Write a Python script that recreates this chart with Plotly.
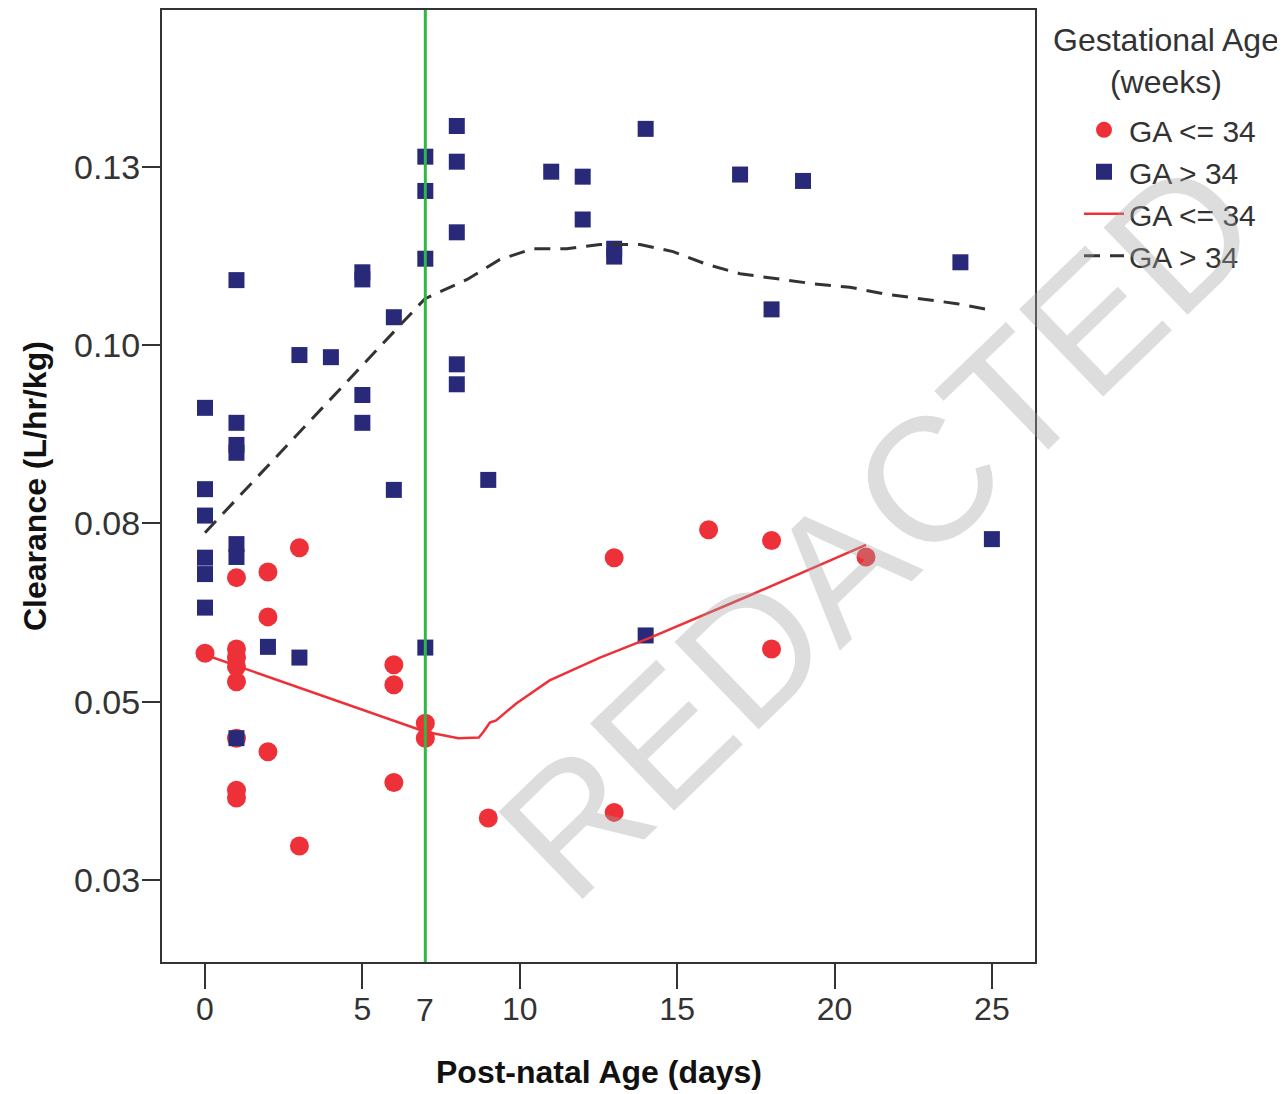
import plotly.graph_objects as go

# ---------------- data ----------------
# GA <= 34 weeks (red circles)
ga_le34_age = [0, 1, 1, 1, 1, 1, 1, 1, 1, 2, 2, 2, 3, 3, 6, 6, 6, 7, 7, 9, 13, 13, 16, 18, 18, 21]
ga_le34_cl = [0.0568, 0.0674, 0.0574, 0.0562, 0.0549, 0.0528, 0.0449, 0.0376, 0.0365,
              0.0682, 0.0619, 0.0430, 0.0716, 0.0298, 0.0552, 0.0524, 0.0387,
              0.0470, 0.0449, 0.0337, 0.0702, 0.0345, 0.0741, 0.0726, 0.0574, 0.0703]

# GA > 34 weeks (navy squares)
ga_gt34_age = [0, 0, 0, 0, 0, 0, 1, 1, 1, 1, 1, 1, 1, 2, 3, 3, 4, 5, 5, 5, 5, 6, 6,
               7, 7, 7, 7, 8, 8, 8, 8, 8, 9, 11, 12, 12, 13, 13, 14, 14, 17, 18, 19, 24, 25]
ga_gt34_cl = [0.0912, 0.0798, 0.0761, 0.0702, 0.0679, 0.0632,
              0.1091, 0.0891, 0.0860, 0.0849, 0.0721, 0.0703, 0.0449,
              0.0577, 0.0986, 0.0562, 0.0983, 0.1102, 0.1092, 0.0930, 0.0891,
              0.1039, 0.0797, 0.1264, 0.1216, 0.1121, 0.0576,
              0.1307, 0.1257, 0.1158, 0.0973, 0.0945, 0.0811, 0.1243, 0.1236, 0.1176,
              0.1135, 0.1124, 0.1303, 0.0593, 0.1239, 0.1050, 0.1230, 0.1116, 0.0728]

# Loess fit lines
fit_le34_age = [0, 7.0, 8.05, 8.7, 8.85, 9.05, 9.25, 9.9, 10.95, 12.55, 14.15, 17.3, 21.0]
fit_le34_cl = [0.0566, 0.0458, 0.0449, 0.0450, 0.0458, 0.0471, 0.0474, 0.0498, 0.0530,
               0.0562, 0.0590, 0.0649, 0.0720]

fit_gt34_age = [0, 4.29, 6.99, 8.33, 9.37, 10.42, 11.5, 12.55, 13.82, 14.87, 15.95, 17.0,
                18.17, 19.31, 20.49, 21.54, 22.71, 23.89, 24.97]
fit_gt34_cl = [0.0737, 0.0938, 0.1065, 0.1092, 0.1120, 0.1135, 0.1135, 0.1141, 0.1141,
               0.1131, 0.1113, 0.1100, 0.1093, 0.1086, 0.1081, 0.1072, 0.1065, 0.1058, 0.1049]

y_tickvals = [0.025, 0.05, 0.075, 0.10, 0.125]
y_ticktext = ["0.03", "0.05", "0.08", "0.10", "0.13"]
x_tickvals = [0, 5, 10, 15, 20, 25]
x_ticktext = ["0", "5", "10", "15", "20", "25"]
cutoff_day = 7

RED = "#EE3139"
NAVY = "#29297A"
GREEN = "#2FB844"
FONT = "Liberation Sans, Arial, sans-serif"
TXT = "#333333"

# page is offset by the 8px body margin; figure sized to fit the window
W, H = 1277, 1086
L, T, R, B = 154, 0, 250, 132
PW, PH = W - L - R, H - T - B


def px_to_paper(px, py):
    # px, py in window pixels
    return (px - 8 - L) / PW, (H - B - (py - 8)) / PH


fig = go.Figure()
fig.add_trace(go.Scatter(x=ga_le34_age, y=ga_le34_cl, mode="markers", name="GA <= 34",
                         marker=dict(symbol="circle", size=19, color=RED)))
fig.add_trace(go.Scatter(x=ga_gt34_age, y=ga_gt34_cl, mode="markers", name="GA > 34",
                         marker=dict(symbol="square", size=16, color=NAVY)))
fig.add_trace(go.Scatter(x=fit_le34_age, y=fit_le34_cl, mode="lines", name="GA <= 34",
                         line=dict(color=RED, width=2.5)))
fig.add_trace(go.Scatter(x=fit_gt34_age, y=fit_gt34_cl, mode="lines", name="GA > 34",
                         line=dict(color="#333333", width=3, dash="16px,10px")))

fig.add_vline(x=cutoff_day, line=dict(color=GREEN, width=3))

wx, wy = px_to_paper(878, 528)
tx, ty = px_to_paper(1166, 59)
lx, ly = px_to_paper(1079, 102)

annotations = [
    dict(text="REDACTED", x=wx, y=wy, xref="paper", yref="paper",
         xanchor="center", yanchor="middle", textangle=-44, showarrow=False,
         font=dict(family=FONT, size=176, color="rgba(160,160,160,0.36)")),
    dict(text=str(cutoff_day), x=cutoff_day, xref="x", y=0, yref="paper",
         xanchor="center", yanchor="middle", yshift=-48, showarrow=False,
         font=dict(family=FONT, size=32, color=TXT)),
    dict(text="<b>Post-natal Age (days)</b>", x=0.5, y=0, xref="paper", yref="paper",
         xanchor="center", yanchor="middle", yshift=-110, showarrow=False,
         font=dict(family=FONT, size=32, color="#111111")),
    dict(text="<b>Clearance (L/hr/kg)</b>", x=0, y=0.5, xref="paper", yref="paper",
         xanchor="center", yanchor="middle", xshift=-127, textangle=-90, showarrow=False,
         font=dict(family=FONT, size=32, color="#111111")),
    dict(text="Gestational Age<br>(weeks)", x=tx, y=ty, xref="paper", yref="paper",
         xanchor="center", yanchor="middle", showarrow=False,
         font=dict(family=FONT, size=32, color=TXT)),
]

fig.update_layout(
    width=W, height=H,
    margin=dict(l=L, r=R, t=T, b=B),
    paper_bgcolor="white", plot_bgcolor="white",
    font=dict(family=FONT, color=TXT),
    showlegend=True,
    legend=dict(x=lx, y=ly, xanchor="left", yanchor="top",
                font=dict(family=FONT, size=30, color=TXT),
                bgcolor="rgba(0,0,0,0)", itemwidth=40),
    annotations=annotations,
    xaxis=dict(range=[-1.366, 26.37], tickvals=x_tickvals, ticktext=x_ticktext,
               showgrid=False, zeroline=False, ticks="outside", ticklen=25, tickwidth=2,
               tickcolor="#333333", showline=True, linecolor="#333333", linewidth=2,
               mirror=True, ticklabelstandoff=-7,
               tickfont=dict(family=FONT, size=32, color=TXT)),
    yaxis=dict(range=[0.01353, 0.14696], tickvals=y_tickvals, ticktext=y_ticktext,
               showgrid=False, zeroline=False, ticks="outside", ticklen=18, tickwidth=2,
               tickcolor="#333333", showline=True, linecolor="#333333", linewidth=2,
               mirror=True, ticklabelstandoff=-5,
               tickfont=dict(family=FONT, size=34, color=TXT)),
)

fig.write_html("out.html")
